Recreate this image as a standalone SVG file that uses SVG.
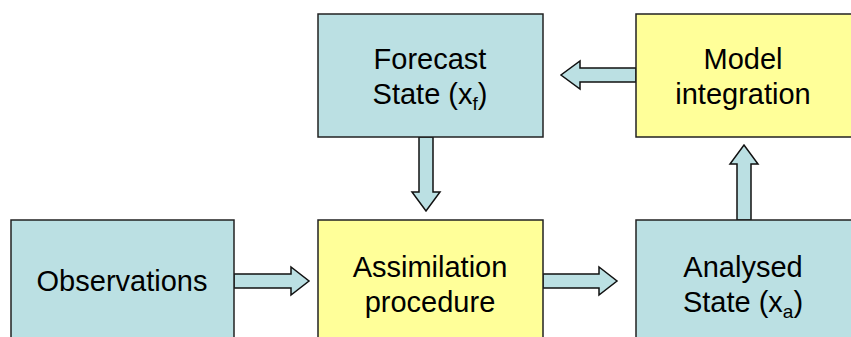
<svg xmlns="http://www.w3.org/2000/svg" width="851" height="337" viewBox="0 0 851 337">
  <style>
    .box { stroke: #222; stroke-width: 1.5; }
    .blue { fill: #BBE0E3; }
    .yellow { fill: #FFFF99; }
    .arrow { fill: #BBE0E3; stroke: #111; stroke-width: 1.5; stroke-linejoin: miter; }
    .label { font-family: "Liberation Sans", Arial, sans-serif; font-size: 29px; fill: #000; text-anchor: middle; }
    .sub { font-size: 19px; }
  </style>
  <rect width="851" height="337" fill="#fff"/>

  <!-- block arrows between the stages -->
  <g id="connectors">
    <!-- Observations to Assimilation -->
    <polygon class="arrow" points="234,274 291,274 291,267 309,281 291,295 291,288 234,288"/>
    <!-- Assimilation to Analysed -->
    <polygon class="arrow" points="543,274 599,274 599,267 617,281 599,295 599,288 543,288"/>
    <!-- Model integration to Forecast -->
    <polygon class="arrow" points="636,68 580,68 580,61 561,75 580,89 580,82 636,82"/>
    <!-- Forecast down to Assimilation -->
    <polygon class="arrow" points="419,137 419,192 412,192 426,211 440,192 433,192 433,137"/>
    <!-- Analysed up to Model integration -->
    <polygon class="arrow" points="737,220 737,164 730,164 744,145 758,164 751,164 751,220"/>
  </g>

  <g id="forecast">
    <rect class="box blue" x="318" y="14" width="225" height="123"/>
    <text class="label" x="430" y="69">Forecast</text>
    <text class="label" x="430" y="104">State (x<tspan class="sub" dy="6">f</tspan><tspan dy="-6">)</tspan></text>
  </g>

  <g id="model">
    <rect class="box yellow" x="636" y="14" width="220" height="123"/>
    <text class="label" x="743" y="69">Model</text>
    <text class="label" x="743" y="104">integration</text>
  </g>

  <g id="observations">
    <rect class="box blue" x="11" y="220" width="223" height="130"/>
    <text class="label" x="122" y="291">Observations</text>
  </g>

  <g id="assimilation">
    <rect class="box yellow" x="318" y="220" width="225" height="130"/>
    <text class="label" x="430" y="277">Assimilation</text>
    <text class="label" x="430" y="312">procedure</text>
  </g>

  <g id="analysed">
    <rect class="box blue" x="636" y="220" width="220" height="130"/>
    <text class="label" x="743" y="277">Analysed</text>
    <text class="label" x="743" y="312">State (x<tspan class="sub" dy="6">a</tspan><tspan dy="-6">)</tspan></text>
  </g>
</svg>
